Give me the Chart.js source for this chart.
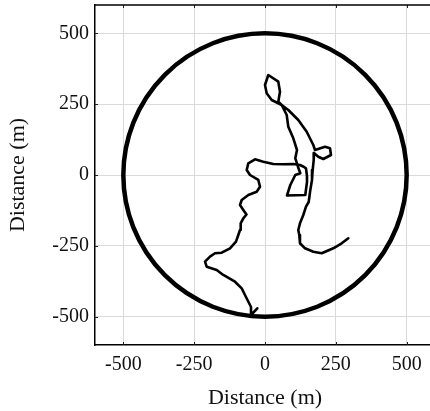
<!DOCTYPE html>
<html>
<head>
<meta charset="utf-8">
<script src="https://cdn.jsdelivr.net/npm/chart.js@4"></script>
<style>
html,body{margin:0;padding:0;background:#fff;overflow:hidden;width:430px;height:411px;}
#wrap{position:absolute;left:0;top:0;width:440px;height:411px;}
</style>
</head>
<body>
<div id="wrap"><canvas id="c" width="440" height="411"></canvas></div>
<script>
// Axis ticks (m)
const tickValues = [-500, -250, 0, 250, 500];
const axisMin = -600;
const axisMax = 600;
// Boundary circle radius (m)
const circleRadius = 500;
// Trajectory (m)
const pathX = [-27.2,-45.9,-49.4,-70.6,-82.2,-105.9,-147.2,-170.5,-205.8,-211.8,-194.1,-176.5,-152.8,-123.5,-102.4,-94.2,-88.2,-85.8,-76.6,-65.3,-74.1,-88.2,-82.2,-58.9,-29.3,-17.6,-23.6,-52.9,-64.6,-58.9,-35.3,-6,29.3,64.6,99.9,123.5,136.6,144.7,148.2,148.2,142.2,77.6,89.3,106.9,124.6,116.5,112.9,106.9,112.9,99.9,82.2,76.6,58.9,46.9,52.9,46.9,11.6,0,6,23.6,58.9,82.2,117.5,147.2,170.5,176.5,211.8,229.4,232.9,205.8,188.1,172.9,171.9,168.3,165.9,159.9,154.2,144.7,135.2,123.5,117.5,121,123.5,141.2,170.5,200.1,241,270.7,294];
const pathY = [-470.4,-490.6,-465.9,-423.5,-399.9,-376.6,-352.9,-335.3,-323.6,-306,-288.3,-276.3,-274.2,-258.7,-235.4,-211.8,-194.1,-170.5,-152.8,-139.4,-127.1,-105.9,-88.2,-70.6,-58.9,-41.3,-17.6,0,17.6,41.3,55.4,46.9,38.8,37.8,38.8,35.3,29.3,23.6,-3.5,-24.7,-70.6,-72.3,-35.3,0,6,28.2,41.3,58.9,88.2,129.5,170.5,211.8,247,258.7,294,329.3,352.9,317.6,288.3,264.7,247,229.4,194.1,152.8,105.9,88.2,99.9,94.2,70.6,56.5,64.6,77.6,52.9,17.6,-17.6,-52.9,-95.3,-111.9,-141.2,-170.5,-194.1,-211.8,-241,-258.7,-270.7,-276.3,-258.7,-241,-223.4];
const axisTitle = 'Distance (m)';

const FONT = "'Liberation Serif', 'Times New Roman', serif";

const framePlugin = {
  id: 'frame',
  beforeDatasetsDraw(chart) {
    const {ctx, scales: {x, y}} = chart;
    const cx = x.getPixelForValue(0), cy = y.getPixelForValue(0);
    const rx = Math.abs(x.getPixelForValue(circleRadius) - cx);
    const ry = Math.abs(y.getPixelForValue(circleRadius) - cy);
    ctx.save();
    ctx.beginPath();
    ctx.ellipse(cx, cy, rx, ry, 0, 0, Math.PI * 2);
    ctx.strokeStyle = '#000';
    ctx.lineWidth = 4.5;
    ctx.stroke();
    ctx.restore();
  },
  afterDraw(chart) {
    const {ctx, chartArea: a, scales: {x, y}} = chart;
    ctx.save();
    ctx.strokeStyle = '#222';
    ctx.lineWidth = 1;
    tickValues.forEach(v => {
      const px = Math.round(x.getPixelForValue(v)) + 0.5;
      ctx.beginPath();
      ctx.moveTo(px, a.bottom); ctx.lineTo(px, a.bottom - 3);
      ctx.moveTo(px, a.top); ctx.lineTo(px, a.top + 3);
      ctx.stroke();
      const py = Math.round(y.getPixelForValue(v)) + 0.5;
      ctx.beginPath();
      ctx.moveTo(a.left, py); ctx.lineTo(a.left + 3, py);
      ctx.moveTo(a.right, py); ctx.lineTo(a.right - 3, py);
      ctx.stroke();
    });
    ctx.strokeStyle = '#000';
    ctx.lineWidth = 1.5;
    ctx.beginPath();
    ctx.moveTo(a.left, a.top); ctx.lineTo(a.right, a.top);
    ctx.lineTo(a.right, a.bottom);
    ctx.stroke();
    ctx.restore();
  }
};

new Chart(document.getElementById('c'), {
  type: 'scatter',
  data: {
    datasets: [{
      data: pathX.map((v, i) => ({x: v, y: pathY[i]})),
      showLine: true,
      borderColor: '#000',
      borderWidth: 2.6,
      pointRadius: 0,
      tension: 0,
      borderJoinStyle: 'round',
      borderCapStyle: 'round'
    }]
  },
  options: {
    responsive: false,
    animation: false,
    devicePixelRatio: 1,
    layout: {padding: {top: 5, right: 5, left: 0, bottom: 0}},
    plugins: {legend: {display: false}, tooltip: {enabled: false}},
    scales: {
      x: {
        type: 'linear', min: axisMin, max: axisMax,
        afterBuildTicks: s => { s.ticks = tickValues.map(v => ({value: v})); },
        afterFit: s => { s.height = 66; s.paddingLeft = 0; s.paddingRight = 0; },
        grid: {color: '#dadada', lineWidth: 1, drawTicks: false},
        border: {color: '#000', width: 1.5},
        ticks: {color: '#111', padding: 8, font: {family: FONT, size: 20}, maxRotation: 0},
        title: {display: true, text: axisTitle, color: '#111', font: {family: FONT, size: 22}, padding: {top: 0, bottom: 0}}
      },
      y: {
        type: 'linear', min: axisMin, max: axisMax,
        afterBuildTicks: s => { s.ticks = tickValues.map(v => ({value: v})); },
        afterFit: s => { s.width = 95; s.paddingTop = 0; s.paddingBottom = 0; },
        grid: {color: '#dadada', lineWidth: 1, drawTicks: false},
        border: {color: '#000', width: 1.5},
        ticks: {color: '#111', padding: 6, font: {family: FONT, size: 20}},
        title: {display: true, text: axisTitle, color: '#111', font: {family: FONT, size: 22}, padding: {top: 5, bottom: 0}}
      }
    }
  },
  plugins: [framePlugin]
});
</script>
</body>
</html>
